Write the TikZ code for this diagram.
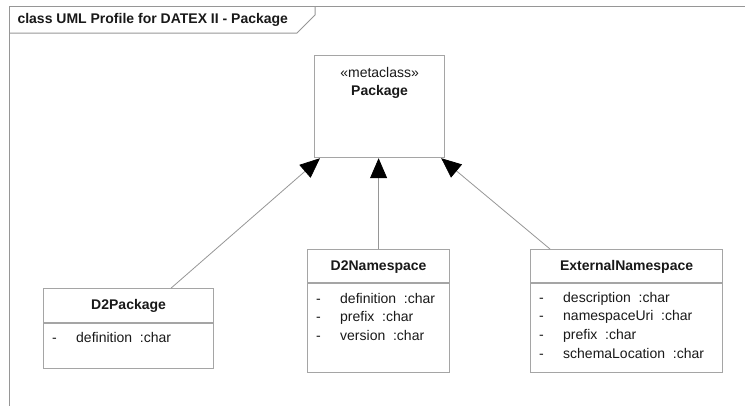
\documentclass[tikz,border=0pt]{standalone}
\usepackage{fontspec}
\setmainfont{Liberation Sans}
\usetikzlibrary{arrows.meta,positioning}

\definecolor{umlline}{RGB}{150,150,150}
\definecolor{umlborder}{RGB}{165,165,165}
\definecolor{umltext}{RGB}{25,25,25}
\newcommand{\umlattr}[1]{\makebox[24pt][l]{-}#1}

\tikzset{
    umlclass/.style={draw=umlborder, line width=1.2pt, fill=white, anchor=north west, inner sep=0pt},
    umlname/.style={text=umltext, font=\fontsize{14}{16}\selectfont\bfseries},
    umlattrs/.style={anchor=north west, align=left, inner sep=0pt, text=umltext},
    umlsplit/.style={draw=umlborder, line width=1.2pt},
    inherit/.style={draw=umlline, line width=0.8pt, -{Triangle[length=20pt,width=17pt,color=black]}},
}

\begin{document}
\begin{tikzpicture}[x=1pt, y=-1pt, font=\fontsize{14}{18.6}\selectfont]
    \clip (0,0) rectangle (745,405);
    \draw[umlline, line width=1pt] (9,6) rectangle (760,420);
    \draw[umlline, line width=1pt] (9,33) -- (297,33) -- (315,15) -- (315,6);
    \node[umlname, anchor=west] (frametitle) at (14,20) {class UML Profile for DATEX II - Package};

    \node[umlclass, minimum width=130pt, minimum height=102pt] (pkg) at (314,55) {};
    \node[text=umltext] (pkgstereo) at ([yshift=-17pt]pkg.north) {«metaclass»};
    \node[umlname] (pkgname) at ([yshift=-37pt]pkg.north) {Package};

    \node[umlclass, minimum width=170pt, minimum height=80pt] (d2p) at (43,288) {};
    \node[umlname] (d2pname) at ([yshift=-18pt]d2p.north) {D2Package};
    \draw[umlsplit] ([yshift=-35pt]d2p.north west) -- ([yshift=-35pt]d2p.north east);
    \node[umlattrs] (d2pattrs) at ([xshift=9pt,yshift=-44pt]d2p.north west) {\umlattr{definition~ :char}};

    \node[umlclass, minimum width=142pt, minimum height=123pt] (d2ns) at (307,249) {};
    \node[umlname] (d2nsname) at ([yshift=-18pt]d2ns.north) {D2Namespace};
    \draw[umlsplit] ([yshift=-34pt]d2ns.north west) -- ([yshift=-34pt]d2ns.north east);
    \node[umlattrs] (d2nsattrs) at ([xshift=9pt,yshift=-44pt]d2ns.north west)
        {\umlattr{definition~ :char}\\ \umlattr{prefix~ :char}\\ \umlattr{version~ :char}};

    \node[umlclass, minimum width=192pt, minimum height=123pt] (extns) at (530,249) {};
    \node[umlname] (extnsname) at ([yshift=-18pt]extns.north) {ExternalNamespace};
    \draw[umlsplit] ([yshift=-34pt]extns.north west) -- ([yshift=-34pt]extns.north east);
    \node[umlattrs] (extnsattrs) at ([xshift=9pt,yshift=-43pt]extns.north west)
        {\umlattr{description~ :char}\\ \umlattr{namespaceUri~ :char}\\ \umlattr{prefix~ :char}\\ \umlattr{schemaLocation~ :char}};

    \draw[inherit] ([xshift=-43pt]d2p.north east) -- ([xshift=6pt]pkg.south west);
    \draw[inherit] (d2ns.north) -- (d2ns.north |- pkg.south);
    \draw[inherit] ([xshift=20pt]extns.north west) -- ([xshift=-4pt]pkg.south east);
\end{tikzpicture}
\end{document}
